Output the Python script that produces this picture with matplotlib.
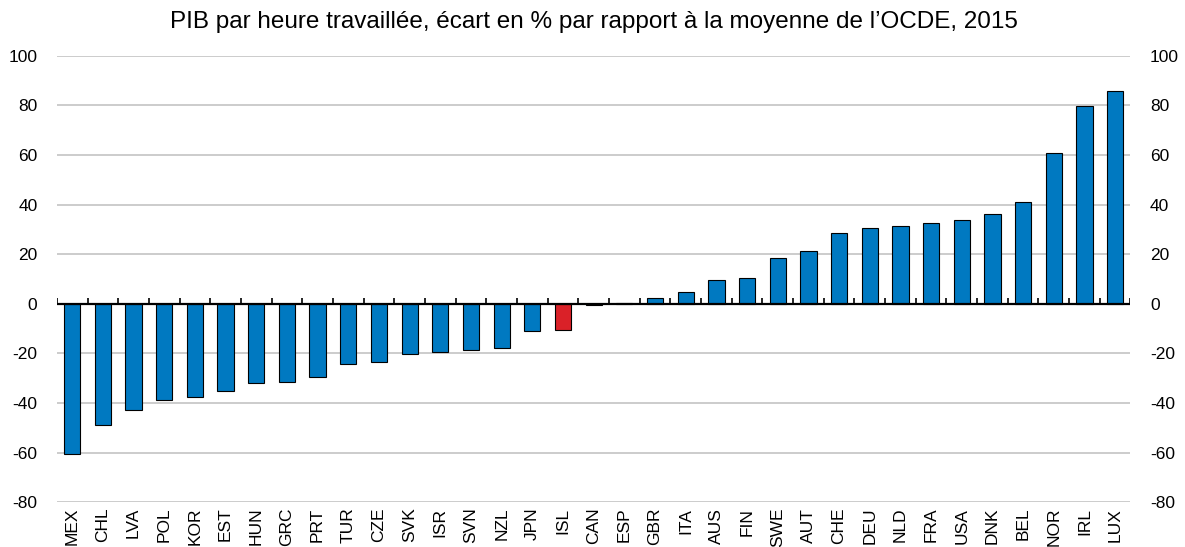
import matplotlib
matplotlib.use('Agg')
import matplotlib.pyplot as plt
import numpy as np

plt.rcParams['font.family'] = ['Liberation Sans', 'DejaVu Sans']
plt.rcParams['axes.unicode_minus'] = False

# Données
pays = ['MEX', 'CHL', 'LVA', 'POL', 'KOR', 'EST', 'HUN', 'GRC', 'PRT', 'TUR',
        'CZE', 'SVK', 'ISR', 'SVN', 'NZL', 'JPN', 'ISL', 'CAN', 'ESP', 'GBR',
        'ITA', 'AUS', 'FIN', 'SWE', 'AUT', 'CHE', 'DEU', 'NLD', 'FRA', 'USA',
        'DNK', 'BEL', 'NOR', 'IRL', 'LUX']
ecart = [-60.5, -49.0, -43.0, -38.8, -37.4, -35.2, -32.1, -31.6, -29.6, -24.3,
         -23.4, -20.4, -19.5, -18.8, -17.8, -11.0, -10.7, -0.5, 0.3, 2.5,
         4.8, 9.6, 10.4, 18.4, 21.2, 28.5, 30.4, 31.5, 32.4, 33.9,
         36.4, 41.0, 61.0, 79.6, 85.9]
pays_rouge = 'ISL'
yticks = [-80, -60, -40, -20, 0, 20, 40, 60, 80, 100]

bleu = '#0079C1'
rouge = '#DA2128'
couleurs = [rouge if p == pays_rouge else bleu for p in pays]

fig = plt.figure(figsize=(11.85, 5.47), dpi=100)
ax = fig.add_axes([0.048, 0.082, 0.906, 0.816])

x = np.arange(len(pays))
ax.bar(x, ecart, width=0.53, color=couleurs, edgecolor='black', linewidth=0.8, zorder=3)

# ligne du zéro avec petites graduations entre les barres
ax.axhline(0, color='black', linewidth=1.6, zorder=4)
ax.vlines(np.arange(len(pays) + 1) - 0.5, 0, 2.4, color='black', linewidth=1.2, zorder=4)

ax.set_xlim(-0.5, len(pays) - 0.5)
ax.set_ylim(-80, 100)
ax.set_yticks(yticks)
ax.yaxis.grid(True, color='#C8C8C8', linewidth=1.3, zorder=0)
ax.set_axisbelow(True)

ax.set_xticks(x)
ax.set_xticklabels(pays, rotation=90, fontsize=12.5)
ax.tick_params(axis='x', length=0, pad=4)
ax.tick_params(axis='y', length=0, pad=14, labelsize=12.5,
               labelleft=True, labelright=True)
for s in ax.spines.values():
    s.set_visible(False)

ax.set_title("PIB par heure travaillée, écart en % par rapport à la moyenne de l’OCDE, 2015",
             fontsize=17.5, pad=20)

fig.savefig('out.png', dpi=100)
